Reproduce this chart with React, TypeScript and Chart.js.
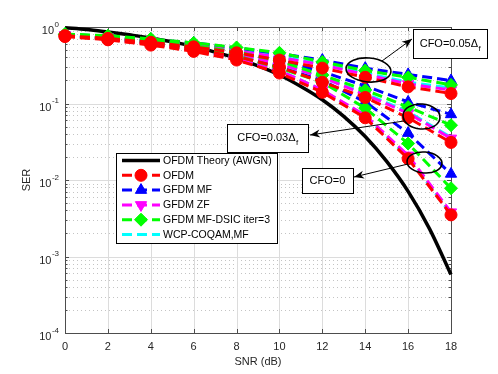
import React, { useEffect, useRef } from "react";
import { Chart, registerables } from "chart.js";

Chart.register(...registerables);

// ---------------- data ----------------
const snr = [0, 2, 4, 6, 8, 10, 12, 14, 16, 18];
const theorySnr = [0, 1, 2, 3, 4, 5, 6, 7, 8, 9, 10, 11, 12, 13, 14, 15, 16, 17, 18];
const theoryOfdm = [0.98, 0.93, 0.86, 0.79, 0.72, 0.64, 0.56, 0.47, 0.39, 0.31, 0.236, 0.167, 0.112, 0.068, 0.037, 0.0175, 0.0071, 0.0023, 0.00058];

// CFO = 0
const ofdmCfo0 = [0.75, 0.68, 0.58, 0.48, 0.37, 0.25, 0.14, 0.065, 0.019, 0.0035];
const mfCfo0 = [0.78, 0.72, 0.63, 0.53, 0.42, 0.3, 0.2, 0.105, 0.041, 0.012];
const zfCfo0 = [0.77, 0.7, 0.6, 0.5, 0.39, 0.27, 0.15, 0.07, 0.021, 0.0038];
const dsicCfo0 = [0.79, 0.73, 0.64, 0.54, 0.42, 0.29, 0.19, 0.087, 0.03, 0.0078];
const wcpCfo0 = [0.77, 0.7, 0.61, 0.5, 0.39, 0.27, 0.15, 0.068, 0.02, 0.0036];

// CFO = 0.03 Δf
const ofdmCfo3 = [0.76, 0.69, 0.6, 0.51, 0.41, 0.3, 0.19, 0.12, 0.065, 0.031];
const mfCfo3 = [0.79, 0.74, 0.66, 0.57, 0.47, 0.37, 0.26, 0.17, 0.105, 0.072];
const zfCfo3 = [0.78, 0.72, 0.63, 0.54, 0.44, 0.33, 0.22, 0.13, 0.075, 0.035];
const dsicCfo3 = [0.8, 0.75, 0.66, 0.57, 0.47, 0.36, 0.235, 0.15, 0.09, 0.052];
const wcpCfo3 = [0.78, 0.72, 0.63, 0.54, 0.44, 0.33, 0.22, 0.135, 0.078, 0.036];

// CFO = 0.05 Δf
const ofdmCfo5 = [0.77, 0.71, 0.63, 0.55, 0.46, 0.37, 0.29, 0.22, 0.165, 0.135];
const mfCfo5 = [0.8, 0.76, 0.69, 0.62, 0.53, 0.45, 0.37, 0.29, 0.24, 0.2];
const zfCfo5 = [0.79, 0.74, 0.66, 0.58, 0.49, 0.4, 0.32, 0.24, 0.18, 0.15];
const dsicCfo5 = [0.81, 0.77, 0.7, 0.62, 0.54, 0.46, 0.35, 0.27, 0.22, 0.175];
const wcpCfo5 = [0.79, 0.74, 0.67, 0.59, 0.5, 0.41, 0.33, 0.25, 0.19, 0.16];

const xTicks = [0, 2, 4, 6, 8, 10, 12, 14, 16, 18];
const yTickExponents = [0, -1, -2, -3, -4];
const yTickBase = "10";
const xTitle = "SNR (dB)";
const yTitle = "SER";
const legendLabels = ["OFDM Theory (AWGN)", "OFDM", "GFDM MF", "GFDM ZF", "GFDM MF-DSIC iter=3", "WCP-COQAM,MF"];
const annotationMain = ["CFO=0.05Δ", "CFO=0.03Δ", "CFO=0"];
const annotationSub = ["f", "f", ""];

// ---------------- styles ----------------
const FONT = '"Liberation Sans", Arial, Helvetica, sans-serif';
const TEXT = "#262626";
const DASH = [10, 5];

const seriesStyles = [
  { color: "#000000", pointStyle: "", rotation: 0, radius: 0 },
  { color: "#ff0000", pointStyle: "circle", rotation: 0, radius: 6 },
  { color: "#0000ff", pointStyle: "triangle", rotation: 0, radius: 6.5 },
  { color: "#ff00ff", pointStyle: "triangle", rotation: 180, radius: 6.5 },
  { color: "#00ff00", pointStyle: "rectRot", rotation: 0, radius: 6.5 },
  { color: "#00ffff", pointStyle: "", rotation: 0, radius: 0 },
];
// draw order (higher = drawn first / underneath)
const seriesOrder = [100, 10, 40, 30, 20, 50];

const groups = [
  [ofdmCfo0, mfCfo0, zfCfo0, dsicCfo0, wcpCfo0],
  [ofdmCfo3, mfCfo3, zfCfo3, dsicCfo3, wcpCfo3],
  [ofdmCfo5, mfCfo5, zfCfo5, dsicCfo5, wcpCfo5],
];

function buildDatasets() {
  const ds: any[] = [];
  ds.push({
    label: legendLabels[0],
    data: theorySnr.map((s, i) => ({ x: s, y: theoryOfdm[i] })),
    borderColor: "#000",
    backgroundColor: "#000",
    borderWidth: 3.5,
    pointRadius: 0,
    cubicInterpolationMode: "monotone",
    order: seriesOrder[0],
    clip: false,
  });
  groups.forEach((g) => {
    g.forEach((vals, k) => {
      const st = seriesStyles[k + 1];
      ds.push({
        label: legendLabels[k + 1],
        data: snr.map((s, i) => ({ x: s, y: vals[i] })),
        borderColor: st.color,
        backgroundColor: st.color,
        borderWidth: 3,
        borderDash: DASH,
        pointStyle: st.pointStyle || false,
        pointRotation: st.rotation,
        pointRadius: st.radius,
        pointBorderWidth: 1,
        pointBorderColor: st.color,
        pointBackgroundColor: st.color,
        order: seriesOrder[k + 1],
        clip: false,
      });
    });
  });
  return ds;
}

function drawMarker(ctx: CanvasRenderingContext2D, style: any, x: number, y: number) {
  if (!style.pointStyle) return;
  const r = style.radius;
  ctx.save();
  ctx.setLineDash([]);
  ctx.fillStyle = style.color;
  ctx.strokeStyle = style.color;
  ctx.lineWidth = 1;
  ctx.beginPath();
  if (style.pointStyle === "circle") {
    ctx.arc(x, y, r, 0, Math.PI * 2);
  } else if (style.pointStyle === "triangle") {
    let rad = (style.rotation * Math.PI) / 180;
    ctx.moveTo(x + Math.sin(rad) * r, y - Math.cos(rad) * r);
    rad += (2 * Math.PI) / 3;
    ctx.lineTo(x + Math.sin(rad) * r, y - Math.cos(rad) * r);
    rad += (2 * Math.PI) / 3;
    ctx.lineTo(x + Math.sin(rad) * r, y - Math.cos(rad) * r);
  } else if (style.pointStyle === "rectRot") {
    ctx.moveTo(x - r, y);
    ctx.lineTo(x, y - r);
    ctx.lineTo(x + r, y);
    ctx.lineTo(x, y + r);
  }
  ctx.closePath();
  ctx.fill();
  ctx.stroke();
  ctx.restore();
}

function arrow(ctx: CanvasRenderingContext2D, x1: number, y1: number, x2: number, y2: number) {
  ctx.beginPath();
  ctx.moveTo(x1, y1);
  ctx.lineTo(x2, y2);
  ctx.stroke();
  const ang = Math.atan2(y2 - y1, x2 - x1);
  const L = 10, W = 4;
  const bx = x2 - Math.cos(ang) * L, by = y2 - Math.sin(ang) * L;
  const nx = -Math.sin(ang), ny = Math.cos(ang);
  const mx = x2 - Math.cos(ang) * L * 0.7, my = y2 - Math.sin(ang) * L * 0.7;
  ctx.beginPath();
  ctx.moveTo(x2, y2);
  ctx.lineTo(bx + nx * W, by + ny * W);
  ctx.lineTo(mx, my);
  ctx.lineTo(bx - nx * W, by - ny * W);
  ctx.closePath();
  ctx.fill();
}

function labelBox(ctx: CanvasRenderingContext2D, x: number, y: number, w: number, h: number, main: string, sub: string) {
  ctx.fillStyle = "#fff";
  ctx.fillRect(x, y, w, h);
  ctx.strokeStyle = "#000";
  ctx.lineWidth = 1;
  ctx.strokeRect(x + 0.5, y + 0.5, w, h);
  ctx.fillStyle = "#000";
  ctx.font = `11px ${FONT}`;
  ctx.textBaseline = "middle";
  ctx.textAlign = "left";
  const mw = ctx.measureText(main).width;
  ctx.font = `8px ${FONT}`;
  const sw = sub ? ctx.measureText(sub).width : 0;
  const tx = x + (w - mw - sw) / 2;
  ctx.font = `11px ${FONT}`;
  ctx.fillText(main, tx, y + h / 2);
  if (sub) {
    ctx.font = `8px ${FONT}`;
    ctx.fillText(sub, tx + mw + 0.5, y + h / 2 + 5);
  }
}

const decorPlugin = {
  id: "decor",
  beforeDraw(chart: any) {
    const ctx = chart.ctx;
    ctx.save();
    ctx.fillStyle = "#fff";
    ctx.fillRect(0, 0, chart.width, chart.height);
    ctx.restore();
  },
  beforeDatasetsDraw(chart: any) {
    const { ctx, chartArea: a } = chart;
    const xs = chart.scales.x, ys = chart.scales.y;
    ctx.save();
    // minor dotted grid
    ctx.strokeStyle = "#c4c4c4";
    ctx.lineWidth = 1;
    ctx.setLineDash([1, 3]);
    for (let e = -4; e < 0; e++) {
      for (let m = 2; m <= 9; m++) {
        const py = Math.round(ys.getPixelForValue(m * Math.pow(10, e))) + 0.5;
        ctx.beginPath();
        ctx.moveTo(a.left, py);
        ctx.lineTo(a.right, py);
        ctx.stroke();
      }
    }
    // major grid
    ctx.setLineDash([]);
    ctx.strokeStyle = "#dcdcdc";
    yTickExponents.forEach((e) => {
      const py = Math.round(ys.getPixelForValue(Math.pow(10, e))) + 0.5;
      ctx.beginPath();
      ctx.moveTo(a.left, py);
      ctx.lineTo(a.right, py);
      ctx.stroke();
    });
    xTicks.forEach((t) => {
      const px = Math.round(xs.getPixelForValue(t)) + 0.5;
      ctx.beginPath();
      ctx.moveTo(px, a.top);
      ctx.lineTo(px, a.bottom);
      ctx.stroke();
    });
    // axes box
    ctx.strokeStyle = "#4d4d4d";
    ctx.lineWidth = 1;
    ctx.strokeRect(Math.round(a.left) + 0.5, Math.round(a.top) + 0.5, Math.round(a.right - a.left), Math.round(a.bottom - a.top));
    // ticks
    xTicks.forEach((t) => {
      const px = Math.round(xs.getPixelForValue(t)) + 0.5;
      ctx.beginPath();
      ctx.moveTo(px, a.bottom);
      ctx.lineTo(px, a.bottom - 4);
      ctx.moveTo(px, a.top);
      ctx.lineTo(px, a.top + 4);
      ctx.stroke();
    });
    for (let e = -4; e <= 0; e++) {
      const py = Math.round(ys.getPixelForValue(Math.pow(10, e))) + 0.5;
      ctx.beginPath();
      ctx.moveTo(a.left, py);
      ctx.lineTo(a.left + 4, py);
      ctx.moveTo(a.right, py);
      ctx.lineTo(a.right - 4, py);
      ctx.stroke();
      if (e < 0) {
        for (let m = 2; m <= 9; m++) {
          const qy = Math.round(ys.getPixelForValue(m * Math.pow(10, e))) + 0.5;
          ctx.beginPath();
          ctx.moveTo(a.left, qy);
          ctx.lineTo(a.left + 2.5, qy);
          ctx.moveTo(a.right, qy);
          ctx.lineTo(a.right - 2.5, qy);
          ctx.stroke();
        }
      }
    }
    // tick labels
    ctx.fillStyle = TEXT;
    ctx.textBaseline = "middle";
    ctx.textAlign = "center";
    ctx.font = `11px ${FONT}`;
    xTicks.forEach((t) => {
      ctx.fillText(String(t), xs.getPixelForValue(t), a.bottom + 13.5);
    });
    yTickExponents.forEach((e) => {
      const py = ys.getPixelForValue(Math.pow(10, e));
      const expStr = String(e);
      ctx.font = `8px ${FONT}`;
      const ew = ctx.measureText(expStr).width;
      ctx.textAlign = "right";
      ctx.fillText(expStr, a.left - 6, py - 2.5);
      ctx.font = `11px ${FONT}`;
      ctx.fillText(yTickBase, a.left - 6 - ew - 0.5, py + 4);
    });
    // axis titles
    ctx.textAlign = "center";
    ctx.font = `11px ${FONT}`;
    ctx.fillText(xTitle, (a.left + a.right) / 2, a.bottom + 29);
    ctx.save();
    ctx.translate(27, (a.top + a.bottom) / 2);
    ctx.rotate(-Math.PI / 2);
    ctx.fillText(yTitle, 0, 0);
    ctx.restore();
    ctx.restore();
  },
  afterDatasetsDraw(chart: any) {
    const ctx = chart.ctx;
    ctx.save();
    // ellipses
    ctx.strokeStyle = "#000";
    ctx.lineWidth = 1.6;
    ctx.setLineDash([]);
    [
      [368.5, 70, 22.5, 12],
      [421.5, 116.5, 18.5, 12.5],
      [424.5, 162.5, 17.5, 10.5],
    ].forEach(([cx, cy, rx, ry]) => {
      ctx.beginPath();
      ctx.ellipse(cx, cy, rx, ry, 0.08, 0, Math.PI * 2);
      ctx.stroke();
    });
    // arrows
    ctx.lineWidth = 1;
    ctx.fillStyle = "#000";
    arrow(ctx, 382, 61, 412, 39);
    arrow(ctx, 404, 121, 310, 135);
    arrow(ctx, 408, 164, 354, 177);
    // label boxes
    labelBox(ctx, 413, 29, 74, 29, annotationMain[0], annotationSub[0]);
    labelBox(ctx, 227, 124, 81, 28, annotationMain[1], annotationSub[1]);
    labelBox(ctx, 302, 168, 51, 25, annotationMain[2], annotationSub[2]);

    // legend
    const lx = 116, ly = 153, lw = 161, lh = 90;
    ctx.fillStyle = "#fff";
    ctx.fillRect(lx, ly, lw, lh);
    ctx.strokeStyle = "#000";
    ctx.lineWidth = 1;
    ctx.strokeRect(lx + 0.5, ly + 0.5, lw, lh);
    const rowH = 14.8;
    legendLabels.forEach((lab, i) => {
      const st = seriesStyles[i];
      const yy = ly + 7.5 + i * rowH;
      ctx.strokeStyle = st.color;
      ctx.lineWidth = i === 0 ? 3.5 : 3;
      ctx.setLineDash(i === 0 ? [] : DASH);
      ctx.beginPath();
      ctx.moveTo(122, yy);
      ctx.lineTo(160, yy);
      ctx.stroke();
      ctx.setLineDash([]);
      drawMarker(ctx, st, 141, yy);
      ctx.fillStyle = "#000";
      ctx.font = `10.5px ${FONT}`;
      ctx.textAlign = "left";
      ctx.textBaseline = "middle";
      ctx.fillText(lab, 163, yy + 0.5);
    });
    ctx.restore();
  },
};

export default function App() {
  const ref = useRef<HTMLCanvasElement>(null);
  useEffect(() => {
    const chart = new Chart(ref.current as HTMLCanvasElement, {
      type: "line",
      data: { datasets: buildDatasets() },
      options: {
        animation: false,
        responsive: false,
        devicePixelRatio: 1,
        layout: { padding: { left: 65, right: 47, top: 27, bottom: 41 } },
        scales: {
          x: { type: "linear", min: 0, max: 18, display: false },
          y: { type: "logarithmic", min: 0.0001, max: 1, display: false },
        },
        plugins: { legend: { display: false }, tooltip: { enabled: false } },
      } as any,
      plugins: [decorPlugin],
    });
    return () => chart.destroy();
  }, []);
  return (
    <div style={{ position: "absolute", left: 0, top: 0, width: 498, height: 374 }}>
      <canvas ref={ref} width={498} height={374} style={{ display: "block" }} />
    </div>
  );
}
